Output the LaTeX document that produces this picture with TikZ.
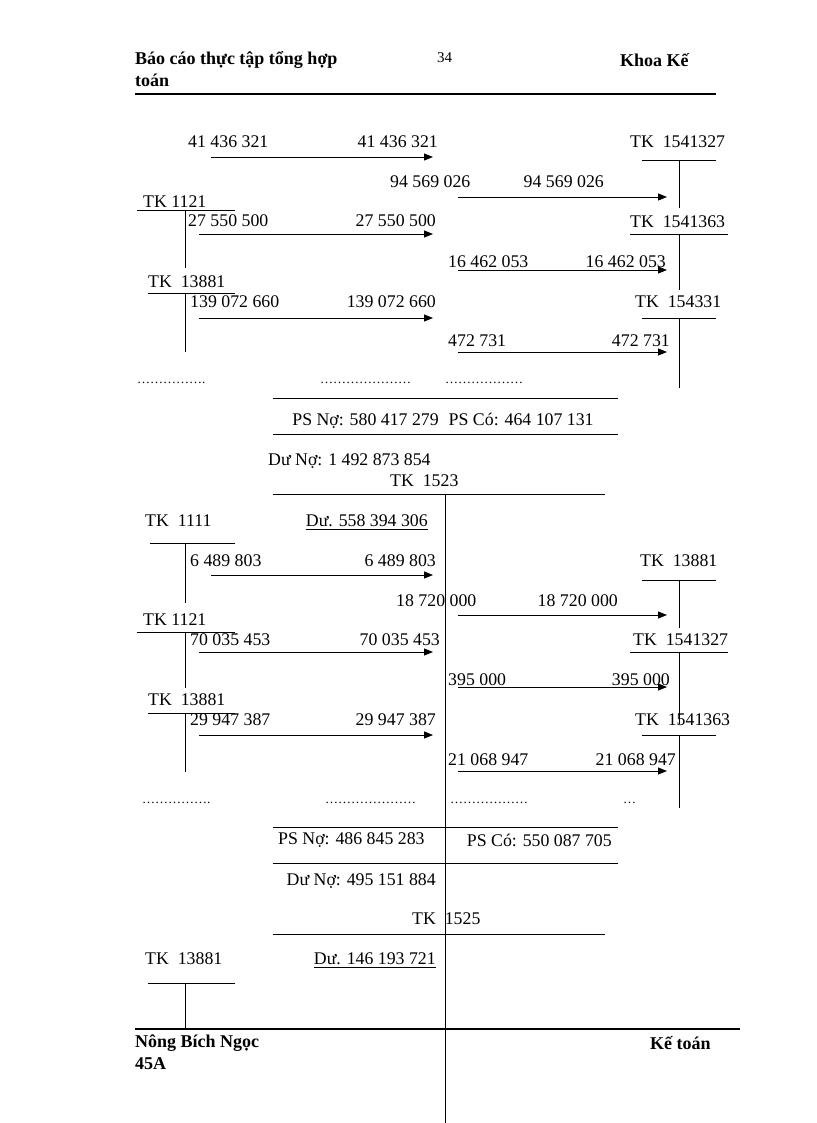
\documentclass[tikz,border=0pt]{standalone}
\usepackage{fontspec}
\setmainfont{Liberation Serif}
\usetikzlibrary{arrows.meta}
\begin{document}
\begin{tikzpicture}[x=1pt,y=-1pt,
  txt/.style={font=\fontsize{17.8}{20}\selectfont, inner sep=0pt},
  hb/.style={font=\fontsize{18}{20}\selectfont\bfseries, inner sep=0pt, anchor=west},
  L/.style={txt, anchor=west},
  R/.style={txt, anchor=east},
  tl/.style={line width=0.9pt},
  rule/.style={line width=2.6pt},
  arr/.style={line width=0.9pt, -{Triangle[length=9pt,width=7pt]}},
  dots/.style={txt, anchor=west, font=\fontsize{13}{16}\selectfont}]
\useasboundingbox (0,0) rectangle (816,1123);
% header
\node[hb] (h1) at (135,60) {Báo cáo thực tập tổng hợp};
\node[hb] (h2) at (135,80) {toán};
\node[txt, anchor=west, font=\fontsize{15}{18}\selectfont] (pg) at (437,58) {34};
\node[hb] (h3) at (620,60) {Khoa Kế};
\draw[rule] (135,94) -- (716,94);
% ---------- section 1
\node[L] (a1l) at (188,142) {41 436 321};
\node[R] (a1r) at (438,142) {41 436 321};
\coordinate (s1) at (211,157); \coordinate (e1) at (433,157);
\draw[arr] (s1) -- (e1);
\node[L] (t1) at (630,142) {TK\ \ 1541327};
\draw[tl] (642,160) -- (716,160); \draw[tl] (679,160) -- (679,208);
\node[L] (a2l) at (390,182) {94 569 026};
\node[R] (a2r) at (604,182) {94 569 026};
\coordinate (s2) at (458,197); \coordinate (e2) at (667,197);
\draw[arr] (s2) -- (e2);
\node[L] (t2) at (143,202) {TK 1121};
\draw[tl] (137,210) -- (235,210); \draw[tl] (185,210) -- (185,268);
\node[L] (a3l) at (188,221) {27 550 500};
\node[R] (a3r) at (436,221) {27 550 500};
\coordinate (s3) at (199,234); \coordinate (e3) at (433,234);
\draw[arr] (s3) -- (e3);
\node[L] (t3) at (630,222) {TK\ \ 1541363};
\draw[tl] (630,234) -- (728,234); \draw[tl] (679,234) -- (679,290);
\node[L] (a4l) at (448,262) {16 462 053};
\node[R] (a4r) at (666,262) {16 462 053};
\coordinate (s4) at (458,270); \coordinate (e4) at (667,270);
\draw[arr] (s4) -- (e4);
\node[L] (t4) at (148,282) {TK\ \ 13881};
\draw[tl] (148,293) -- (235,293); \draw[tl] (185,293) -- (185,352);
\node[L] (a5l) at (190,302) {139 072 660};
\node[R] (a5r) at (436,302) {139 072 660};
\coordinate (s5) at (199,318); \coordinate (e5) at (433,318);
\draw[arr] (s5) -- (e5);
\node[L] (t5) at (635,302) {TK\ \ 154331};
\draw[tl] (642,318) -- (716,318); \draw[tl] (679,318) -- (679,388);
\node[L] (a6l) at (448,341) {472 731};
\node[R] (a6r) at (670,341) {472 731};
\coordinate (s6) at (458,352); \coordinate (e6) at (667,352);
\draw[arr] (s6) -- (e6);
\node[dots] (d1) at (137,383) {…………….};
\node[dots] (d2) at (320,383) {…………………};
\node[dots] (d3) at (445,383) {………………};
\draw[tl] (273,398) -- (618,398);
\node[txt] (ps1) at (443,421) {PS Nợ: 580 417 279\hspace{10pt}PS Có: 464 107 131};
\draw[tl] (273,434) -- (618,434);
\node[L] (du1) at (268,461) {Dư Nợ: 1 492 873 854};
\node[L] (tk1523) at (390,481) {TK\ \ 1523};
\draw[tl] (273,494) -- (605,494);
\draw[tl] (445,494) -- (445,1123);
% ---------- section 2
\node[L] (b0) at (145,521) {TK\ \ 1111};
\draw[tl] (150,543) -- (235,543); \draw[tl] (185,543) -- (185,603);
\node[R] (du2) at (428,521) {Dư. 558 394 306};
\draw[tl] ([yshift=-2pt]du2.south west) -- ([yshift=-2pt]du2.south east);
\node[L] (b1l) at (190,561) {6 489 803};
\node[R] (b1r) at (436,561) {6 489 803};
\coordinate (u1) at (211,575); \coordinate (v1) at (433,575);
\draw[arr] (u1) -- (v1);
\node[L] (r1) at (640,561) {TK\ \ 13881};
\draw[tl] (642,580) -- (716,580); \draw[tl] (679,580) -- (679,628);
\node[L] (b2l) at (396,601) {18 720 000};
\node[R] (b2r) at (618,601) {18 720 000};
\coordinate (u2) at (458,615); \coordinate (v2) at (667,615);
\draw[arr] (u2) -- (v2);
\node[L] (l2) at (143,620) {TK 1121};
\draw[tl] (137,632) -- (235,632); \draw[tl] (185,632) -- (185,688);
\node[L] (b3l) at (190,640) {70 035 453};
\node[R] (b3r) at (440,640) {70 035 453};
\coordinate (u3) at (199,652); \coordinate (v3) at (433,652);
\draw[arr] (u3) -- (v3);
\node[L] (r2) at (633,640) {TK\ \ 1541327};
\draw[tl] (630,652) -- (728,652); \draw[tl] (679,652) -- (679,724);
\node[L] (b4l) at (448,680) {395 000};
\node[R] (b4r) at (670,680) {395 000};
\coordinate (u4) at (458,687); \coordinate (v4) at (667,687);
\draw[arr] (u4) -- (v4);
\node[L] (l3) at (148,700) {TK\ \ 13881};
\draw[tl] (148,713) -- (235,713); \draw[tl] (185,713) -- (185,772);
\node[L] (b5l) at (190,720) {29 947 387};
\node[R] (b5r) at (436,720) {29 947 387};
\coordinate (u5) at (199,735); \coordinate (v5) at (433,735);
\draw[arr] (u5) -- (v5);
\node[L] (r3) at (635,720) {TK\ \ 1541363};
\draw[tl] (642,735) -- (716,735); \draw[tl] (679,735) -- (679,808);
\node[L] (b6l) at (448,760) {21 068 947};
\node[R] (b6r) at (676,760) {21 068 947};
\coordinate (u6) at (458,771); \coordinate (v6) at (667,771);
\draw[arr] (u6) -- (v6);
\node[dots] (d4) at (142,803) {…………….};
\node[dots] (d5) at (325,803) {…………………};
\node[dots] (d6) at (450,803) {………………};
\node[dots] (d7) at (623,803) {…};
\draw[tl] (273,827) -- (618,827);
\node[L] (ps2) at (278,840) {PS Nợ: 486 845 283};
\node[R] (ps3) at (612,840) {PS Có: 550 087 705};
\draw[tl] (273,863) -- (618,863);
\node[R] (du3) at (436,881) {Dư Nợ: 495 151 884};
\node[L] (tk1525) at (412,919) {TK\ \ 1525};
\draw[tl] (273,934) -- (605,934);
\node[L] (c0) at (145,959) {TK\ \ 13881};
\node[R] (du4) at (436,959) {Dư. 146 193 721};
\draw[tl] ([yshift=-2pt]du4.south west) -- ([yshift=-2pt]du4.south east);
\draw[tl] (148,983) -- (235,983); \draw[tl] (185,983) -- (185,1030);
% footer
\draw[rule] (135,1029) -- (740,1029);
\node[hb] (f1) at (135,1043) {Nông Bích Ngọc};
\node[hb] (f2) at (135,1064) {45A};
\node[hb] (f3) at (650,1043) {Kế toán};
\end{tikzpicture}
\end{document}
